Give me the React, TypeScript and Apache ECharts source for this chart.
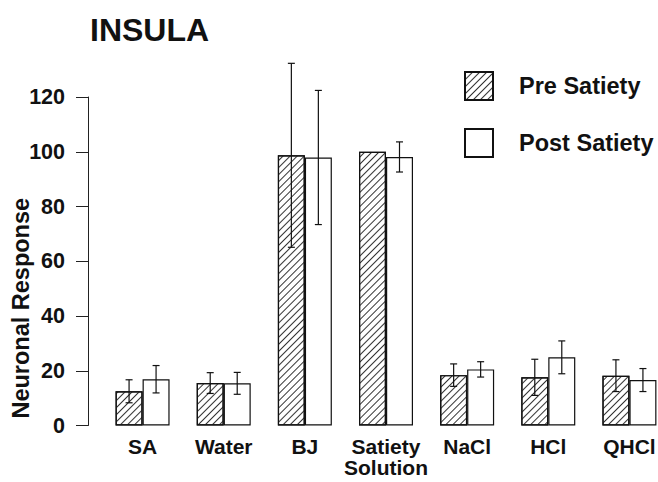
import React, { useEffect, useRef } from "react";
import * as echarts from "echarts";

const categories = ["SA", "Water", "BJ", "Satiety\nSolution", "NaCl", "HCl", "QHCl"];
const preValues = [12.5, 15.5, 98.7, 100, 18.4, 17.6, 18.2];
const preErrors = [4.2, 3.8, 33.6, 0, 4.1, 6.6, 5.8];
const postValues = [16.9, 15.4, 97.9, 98.1, 20.5, 24.9, 16.6];
const postErrors = [5.0, 4.0, 24.5, 5.5, 2.8, 6.0, 4.2];
const seriesNames = ["Pre Satiety", "Post Satiety"];
const yTicks = [0, 20, 40, 60, 80, 100, 120];

const FONT = "Liberation Sans";
const BAR_W = 27;

function errorSeries(values: number[], errors: number[], offset: number) {
  return {
    type: "custom",
    name: "err" + offset,
    z: 5,
    clip: false,
    silent: true,
    data: values.map((v, i) => [i, v, errors[i]]),
    renderItem: (params: any, api: any) => {
      const idx = api.value(0);
      const v = api.value(1);
      const e = api.value(2);
      if (!e) return { type: "group", children: [] };
      const x = api.coord([idx, v])[0] + offset;
      const top = api.coord([idx, v + e])[1];
      const bot = api.coord([idx, v - e])[1];
      const cap = 3.5;
      const style = { stroke: "#111", lineWidth: 1.2 };
      return {
        type: "group",
        children: [
          { type: "line", shape: { x1: x, y1: top, x2: x, y2: bot }, style },
          { type: "line", shape: { x1: x - cap, y1: top, x2: x + cap, y2: top }, style },
          { type: "line", shape: { x1: x - cap, y1: bot, x2: x + cap, y2: bot }, style },
        ],
      };
    },
  };
}

export default function App() {
  const ref = useRef<HTMLDivElement>(null);
  useEffect(() => {
    if (!ref.current) return;
    const chart = echarts.init(ref.current, null, { renderer: "svg" });
    const hatch = {
      symbol: "rect",
      symbolSize: 1,
      dashArrayX: [1, 0],
      dashArrayY: [1, 4],
      rotation: -Math.PI / 4,
      color: "#333",
      backgroundColor: "#fff",
    };
    chart.setOption({
      animation: false,
      backgroundColor: "#fff",
      title: {
        text: "INSULA",
        left: 90,
        top: 14,
        padding: 0,
        textStyle: { fontFamily: FONT, fontWeight: "bold", fontSize: 32, color: "#111" },
      },
      legend: {
        data: seriesNames,
        orient: "vertical",
        left: 464,
        top: 71,
        padding: 0,
        itemWidth: 28,
        itemHeight: 28,
        itemGap: 27,
        icon: "rect",
        textStyle: { fontFamily: FONT, fontWeight: "bold", fontSize: 23.5, color: "#111", padding: [0, 0, 0, 21] },
      },
      grid: { left: 102, width: 568, top: 97, height: 328.5, outerBoundsMode: "none", containLabel: false },
      xAxis: {
        type: "category",
        data: categories,
        axisLine: { show: false },
        axisTick: { show: false },
        axisLabel: {
          fontFamily: FONT,
          fontWeight: "bold",
          fontSize: 21,
          color: "#111",
          margin: 10,
          lineHeight: 21,
          interval: 0,
        },
      },
      yAxis: {
        type: "value",
        min: 0,
        max: 120,
        interval: 20,
        offset: 14,
        name: "Neuronal Response",
        nameLocation: "middle",
        nameGap: 55,
        nameMoveOverlap: false,
        nameTextStyle: {
          fontFamily: FONT,
          fontWeight: "bold",
          fontSize: 23.5,
          color: "#111",
          padding: [0, 94, 0, 0],
        },
        splitLine: { show: false },
        axisLine: { show: true, lineStyle: { color: "#222", width: 1 } },
        axisTick: { show: true, length: 12, lineStyle: { color: "#222", width: 1 } },
        axisLabel: {
          fontFamily: FONT,
          fontWeight: "bold",
          fontSize: 21.5,
          color: "#111",
          margin: 23,
          formatter: (v: number) => (yTicks.includes(v) ? String(v) : ""),
        },
      },
      series: [
        {
          type: "bar",
          name: seriesNames[0],
          data: preValues,
          barWidth: BAR_W,
          barGap: "0%",
          itemStyle: { color: "#fff", borderColor: "#111", borderWidth: 1.2, decal: hatch },
        },
        {
          type: "bar",
          name: seriesNames[1],
          data: postValues,
          barWidth: BAR_W,
          barGap: "0%",
          itemStyle: { color: "#fff", borderColor: "#111", borderWidth: 1.2 },
        },
        errorSeries(preValues, preErrors, -BAR_W / 2),
        errorSeries(postValues, postErrors, BAR_W / 2),
      ],
    });
    return () => chart.dispose();
  }, []);
  return <div ref={ref} style={{ width: 658, height: 482, position: "absolute", left: 0, top: 0 }} />;
}
